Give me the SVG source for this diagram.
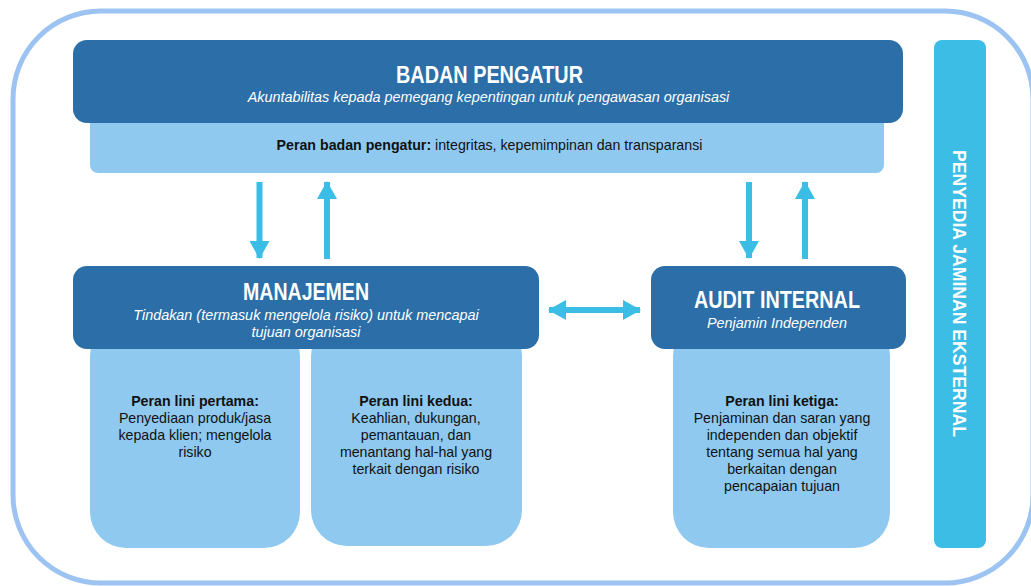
<svg xmlns="http://www.w3.org/2000/svg" width="1031" height="586" viewBox="0 0 1031 586">
  <style>
    .frame { fill: none; stroke: #9cc3f1; stroke-width: 5; }
    .dark { fill: #2b6ea8; }
    .light { fill: #8fc9f0; }
    .side { fill: #3bbde5; }
    .title { font-family: "Liberation Sans", Arial, sans-serif; font-weight: bold; fill: #ffffff; text-anchor: middle; }
    .sub { font-family: "Liberation Sans", Arial, sans-serif; font-style: italic; font-size: 14.4px; fill: #ffffff; text-anchor: middle; }
    .body { font-family: "Liberation Sans", Arial, sans-serif; font-size: 14.2px; fill: #111111; text-anchor: middle; }
    .body .b { font-weight: bold; }
    .arrow { stroke: #3bbde5; stroke-width: 6; fill: none; }
  </style>
  <defs>
    <marker id="head" viewBox="0 0 18 20" refX="17" refY="10" markerWidth="18" markerHeight="20" markerUnits="userSpaceOnUse" orient="auto-start-reverse">
      <path d="M0,0 L18,10 L0,20 Z" fill="#3bbde5"/>
    </marker>
  </defs>

  <rect width="1031" height="586" fill="#ffffff"/>

  <!-- outer boundary of the organisation -->
  <rect class="frame" x="13" y="11" width="1020" height="572" rx="88" ry="88"/>

  <!-- role boxes sit behind the headers -->
  <g id="peran-badan-pengatur">
    <rect class="light" x="90" y="110" width="794" height="63" rx="8"/>
    <text class="body" x="489.5" y="150"><tspan class="b">Peran badan pengatur:</tspan> integritas, kepemimpinan dan transparansi</text>
  </g>

  <g id="lini-pertama">
    <rect class="light" x="90" y="320" width="210" height="228" rx="36"/>
    <text class="body" x="195" y="406"><tspan class="b">Peran lini pertama:</tspan><tspan x="195" dy="17">Penyediaan produk/jasa</tspan><tspan x="195" dy="17">kepada klien; mengelola</tspan><tspan x="195" dy="17">risiko</tspan></text>
  </g>

  <g id="lini-kedua">
    <rect class="light" x="311" y="320" width="211" height="226" rx="36"/>
    <text class="body" x="416" y="406"><tspan class="b">Peran lini kedua:</tspan><tspan x="416" dy="17">Keahlian, dukungan,</tspan><tspan x="416" dy="17">pemantauan, dan</tspan><tspan x="416" dy="17">menantang hal-hal yang</tspan><tspan x="416" dy="17">terkait dengan risiko</tspan></text>
  </g>

  <g id="lini-ketiga">
    <rect class="light" x="673" y="320" width="217" height="228" rx="36"/>
    <text class="body" x="782" y="406"><tspan class="b">Peran lini ketiga:</tspan><tspan x="782" dy="17">Penjaminan dan saran yang</tspan><tspan x="782" dy="17">independen dan objektif</tspan><tspan x="782" dy="17">tentang semua hal yang</tspan><tspan x="782" dy="17">berkaitan dengan</tspan><tspan x="782" dy="17">pencapaian tujuan</tspan></text>
  </g>

  <g id="badan-pengatur">
    <rect class="dark" x="73" y="40" width="830" height="83" rx="14"/>
    <text class="title" x="489.5" y="83" font-size="23" textLength="187" lengthAdjust="spacingAndGlyphs">BADAN PENGATUR</text>
    <text class="sub" x="488.5" y="102">Akuntabilitas kepada pemegang kepentingan untuk pengawasan organisasi</text>
  </g>

  <g id="manajemen">
    <rect class="dark" x="73" y="266" width="466" height="83" rx="14"/>
    <text class="title" x="306" y="300" font-size="23" textLength="126" lengthAdjust="spacingAndGlyphs">MANAJEMEN</text>
    <text class="sub" x="306" y="320">Tindakan (termasuk mengelola risiko) untuk mencapai</text>
    <text class="sub" x="306" y="337">tujuan organisasi</text>
  </g>

  <g id="audit-internal">
    <rect class="dark" x="651" y="266" width="255" height="83" rx="14"/>
    <text class="title" x="777" y="308" font-size="23" textLength="166" lengthAdjust="spacingAndGlyphs">AUDIT INTERNAL</text>
    <text class="sub" x="777" y="328">Penjamin Independen</text>
  </g>

  <g id="penyedia-jaminan-eksternal">
    <rect class="side" x="934" y="40" width="52" height="508" rx="8"/>
    <text class="title" transform="translate(953 293.5) rotate(90)" x="0" y="0" font-size="19" textLength="287" lengthAdjust="spacingAndGlyphs">PENYEDIA JAMINAN EKSTERNAL</text>
  </g>

  <!-- connectors -->
  <g id="connectors">
    <line class="arrow" x1="259.5" y1="182" x2="259.5" y2="258" marker-end="url(#head)"/>
    <line class="arrow" x1="327" y1="259" x2="327" y2="182" marker-end="url(#head)"/>
    <line class="arrow" x1="749" y1="182" x2="749" y2="258" marker-end="url(#head)"/>
    <line class="arrow" x1="805" y1="259" x2="805" y2="182" marker-end="url(#head)"/>
    <line class="arrow" x1="549" y1="310" x2="640" y2="310" marker-start="url(#head)" marker-end="url(#head)"/>
  </g>
</svg>
